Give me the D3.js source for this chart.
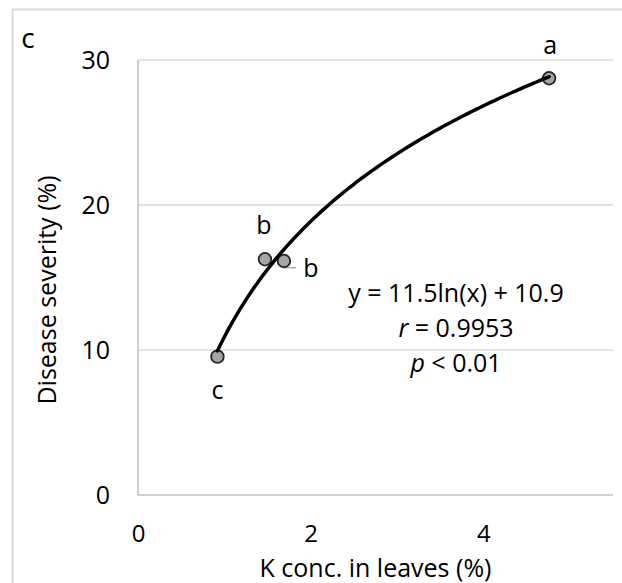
<!DOCTYPE html>
<html>
<head>
<meta charset="utf-8">
<script src="https://cdn.jsdelivr.net/npm/d3@7"></script>
<style>
  html, body { margin: 0; padding: 0; background: #fff; }
  svg text { font-family: "Open Sans", "Noto Sans", sans-serif; fill: #000; }
</style>
</head>
<body>
<svg id="chart" width="622" height="583"></svg>
<script>
// ---- data ----
const kConc = [0.92, 1.47, 1.69, 4.76];        // K conc. in leaves (%)
const severity = [9.54, 16.26, 16.14, 28.74];  // Disease severity (%)
const letters = ["c", "b", "b", "a"];
const xTicks = [0, 2, 4];
const yTicks = [0, 10, 20, 30];
const fitA = 11.5, fitB = 10.9;                // y = a ln(x) + b
const statLines = ["y = 11.5ln(x) + 10.9", "r = 0.9953", "p < 0.01"];

// ---- layout ----
const plotL = 138, plotR = 613, plotT = 60, plotB = 495;
const FS = 25;
const labelOffsets = [[0, 34], [-1, -34], [27, 7], [1, -33]];

const svg = d3.select("#chart");
const x = d3.scaleLinear().domain([0, 5.5]).range([plotL, plotR]);
const y = d3.scaleLinear().domain([0, 30]).range([plotB, plotT]);

// outer frame
svg.append("rect").attr("x", 12.5).attr("y", 9.5).attr("width", 640).attr("height", 600)
  .attr("fill", "none").attr("stroke", "#d9d9d9").attr("stroke-width", 2);

// gridlines
svg.append("g").selectAll("line").data(yTicks.filter(d => d > 0)).join("line")
  .attr("x1", plotL).attr("x2", plotR).attr("y1", d => y(d)).attr("y2", d => y(d))
  .attr("stroke", "#d9d9d9").attr("stroke-width", 1.5);

// axes
const yAxis = svg.append("g").attr("transform", `translate(${plotL},0)`)
  .call(d3.axisLeft(y).tickValues(yTicks).tickSize(0).tickPadding(28).tickFormat(d3.format("d")));
const xAxis = svg.append("g").attr("transform", `translate(0,${plotB})`)
  .call(d3.axisBottom(x).tickValues(xTicks).tickSize(0).tickPadding(28).tickFormat(d3.format("d")));
[xAxis, yAxis].forEach(g => {
  g.select(".domain").attr("stroke", "#bfbfbf").attr("stroke-width", 1.5);
  g.selectAll("text").attr("font-size", FS).attr("font-family", "Open Sans").attr("fill", "#000");
});
yAxis.select(".domain").attr("d", `M0,${plotT}V${plotB}`);
xAxis.select(".domain").attr("d", `M${plotL},0H${plotR}`);
xAxis.selectAll("text").attr("font-size", 24).attr("dy", "0.35em").attr("y", 39);

// axis titles
svg.append("text").attr("x", (plotL + plotR) / 2).attr("y", 568).attr("dy", "0.35em")
  .attr("text-anchor", "middle").attr("font-size", FS).text("K conc. in leaves (%)");
svg.append("text").attr("transform", "translate(47,290) rotate(-90)").attr("dy", "0.35em")
  .attr("text-anchor", "middle").attr("font-size", FS).text("Disease severity (%)");

// panel label
svg.append("text").attr("x", 28).attr("y", 38).attr("dy", "0.35em")
  .attr("text-anchor", "middle").attr("font-size", FS + 3).text("c");

// leader line for second b
svg.append("line").attr("x1", x(kConc[2])).attr("x2", x(kConc[2]) + 12)
  .attr("y1", y(severity[2]) + 6.7).attr("y2", y(severity[2]) + 6.7)
  .attr("stroke", "#a6a6a6").attr("stroke-width", 1.5);

// markers
svg.append("g").selectAll("circle").data(kConc).join("circle")
  .attr("cx", d => x(d)).attr("cy", (d, i) => y(severity[i])).attr("r", 6.3)
  .attr("fill", "#a5a5a5").attr("stroke", "#262626").attr("stroke-width", 1.8);

// trendline
const xmin = d3.min(kConc), xmax = d3.max(kConc);
const curvePts = d3.range(0, 101).map(i => {
  const xv = xmin + (xmax - xmin) * i / 100;
  return [xv, fitA * Math.log(xv) + fitB];
});
svg.append("path").datum(curvePts)
  .attr("d", d3.line().x(d => x(d[0])).y(d => y(d[1])))
  .attr("fill", "none").attr("stroke", "#000").attr("stroke-width", 3.5).attr("stroke-linecap", "round");

// letter labels
svg.append("g").selectAll("text").data(letters).join("text")
  .attr("x", (d, i) => x(kConc[i]) + labelOffsets[i][0])
  .attr("y", (d, i) => y(severity[i]) + labelOffsets[i][1])
  .attr("dy", "0.35em").attr("text-anchor", "middle").attr("font-size", FS).text(d => d);

// fit statistics
const stat = svg.append("g").attr("font-size", FS).attr("text-anchor", "middle");
const statY = [293, 328, 363];
stat.append("text").attr("x", 456).attr("y", statY[0]).attr("dy", "0.35em").text(statLines[0]);
const t1 = stat.append("text").attr("x", 456).attr("y", statY[1]).attr("dy", "0.35em");
t1.append("tspan").attr("font-style", "italic").text(statLines[1].slice(0, 1));
t1.append("tspan").text(statLines[1].slice(1));
const t2 = stat.append("text").attr("x", 456).attr("y", statY[2]).attr("dy", "0.35em");
t2.append("tspan").attr("font-style", "italic").text(statLines[2].slice(0, 1));
t2.append("tspan").text(statLines[2].slice(1));
</script>
</body>
</html>
